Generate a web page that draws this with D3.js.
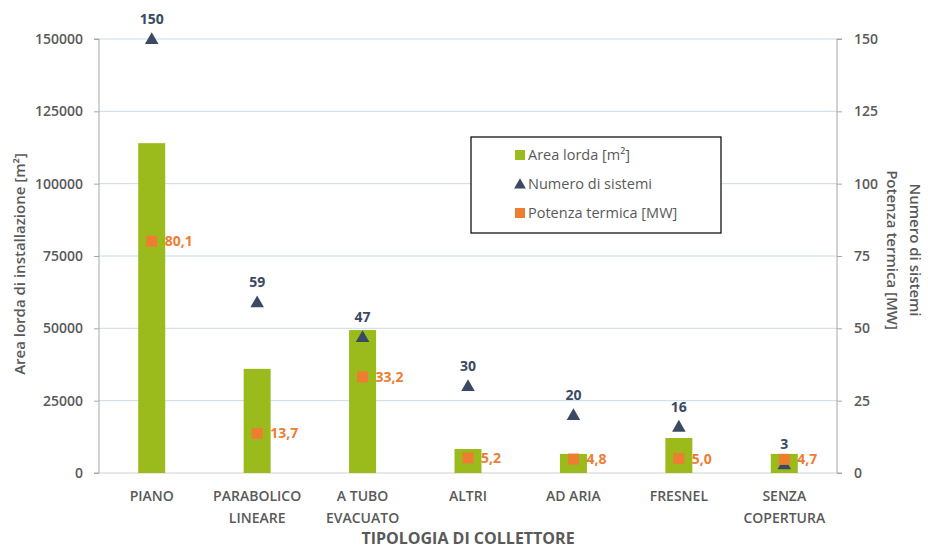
<!DOCTYPE html>
<html>
<head>
<meta charset="utf-8">
<script src="https://cdn.jsdelivr.net/npm/d3@7"></script>
<style>
  body { margin: 0; background: #fff; }
  svg text { font-family: "Open Sans", sans-serif; }
</style>
</head>
<body>
<div class="wrapper"></div>
<script>
const categories = [['PIANO'], ['PARABOLICO', 'LINEARE'], ['A TUBO', 'EVACUATO'], ['ALTRI'], ['AD ARIA'], ['FRESNEL'], ['SENZA', 'COPERTURA']]
const areaValues = [114000, 36000, 49400, 8300, 6600, 12100, 6600]
const sistemiValues = [150, 59, 47, 30, 20, 16, 3]
const potenzaValues = [80.1, 13.7, 33.2, 5.2, 4.8, 5.0, 4.7]
const leftTicks = [0, 25000, 50000, 75000, 100000, 125000, 150000]
const rightTicks = [0, 25, 50, 75, 100, 125, 150]

const width = 928, height = 550
const margin = { top: 39, right: 91, bottom: 77, left: 99 }
const innerW = width - margin.left - margin.right
const innerH = height - margin.top - margin.bottom

const green = '#9bbb1c', navy = '#3b4a64', orange = '#ed7d31', grey = '#595959'

const svg = d3.select('.wrapper')
  .append('svg')
  .attr('width', width)
  .attr('height', height)

const g = svg.append('g')
  .attr('transform', `translate(${margin.left}, ${margin.top})`)

const x = d3.scaleBand()
  .domain(d3.range(categories.length))
  .range([0, innerW])

const yL = d3.scaleLinear().domain([0, 150000]).range([innerH, 0])
const yR = d3.scaleLinear().domain([0, 150]).range([innerH, 0])

// gridlines
g.selectAll('line.grid')
  .data(leftTicks.slice(1))
  .enter().append('line')
  .attr('class', 'grid')
  .attr('x1', 0).attr('x2', innerW)
  .attr('y1', d => yL(d)).attr('y2', d => yL(d))
  .attr('stroke', '#c9dbe8')
  .attr('stroke-width', 1)

// left axis
const leftAxis = g.append('g')
  .call(d3.axisLeft(yL).tickValues(leftTicks).tickSize(5).tickPadding(11).tickFormat(d3.format('d')))
leftAxis.select('.domain').attr('stroke', '#a6a6a6').attr('d', `M-5,${innerH}H0V0H-5`)
leftAxis.selectAll('.tick line').attr('stroke', '#a6a6a6')
leftAxis.selectAll('text').attr('fill', grey).style('font-size', '14px').style('font-weight', 600)

// right axis
const rightAxis = g.append('g')
  .attr('transform', `translate(${innerW}, 0)`)
  .call(d3.axisRight(yR).tickValues(rightTicks).tickSize(5).tickPadding(12))
rightAxis.select('.domain').attr('stroke', '#a6a6a6').attr('d', `M5,${innerH}H0V0H5`)
rightAxis.selectAll('.tick line').attr('stroke', '#a6a6a6')
rightAxis.selectAll('text').attr('fill', grey).style('font-size', '14px').style('font-weight', 600)

// bottom axis line
g.append('line')
  .attr('x1', 0).attr('x2', innerW)
  .attr('y1', innerH).attr('y2', innerH)
  .attr('stroke', '#d0d0d0')

// category labels
const catLabel = g.selectAll('text.cat')
  .data(categories)
  .enter().append('text')
  .attr('class', 'cat')
  .attr('text-anchor', 'middle')
  .attr('fill', grey)
  .style('font-size', '14px')
  .style('font-weight', 600)
catLabel.each(function (d, i) {
  d3.select(this).selectAll('tspan')
    .data(d)
    .enter().append('tspan')
    .attr('x', x(i) + x.bandwidth() / 2)
    .attr('y', (t, j) => innerH + 28 + j * 22)
    .text(t => t)
})

// bars
const barW = 27
g.selectAll('rect.bar')
  .data(areaValues)
  .enter().append('rect')
  .attr('class', 'bar')
  .attr('x', (d, i) => x(i) + x.bandwidth() / 2 - barW / 2)
  .attr('y', d => yL(d))
  .attr('width', barW)
  .attr('height', d => innerH - yL(d))
  .attr('fill', green)

// triangles (numero di sistemi)
const tri = d3.symbol().type(d3.symbolTriangle).size(80)
g.selectAll('path.tri')
  .data(sistemiValues)
  .enter().append('path')
  .attr('class', 'tri')
  .attr('d', tri)
  .attr('transform', (d, i) => `translate(${x(i) + x.bandwidth() / 2}, ${yR(d) + 1})`)
  .attr('fill', navy)

g.selectAll('text.tri-label')
  .data(sistemiValues)
  .enter().append('text')
  .attr('class', 'tri-label')
  .attr('x', (d, i) => x(i) + x.bandwidth() / 2)
  .attr('y', d => yR(d) - 15)
  .attr('text-anchor', 'middle')
  .attr('fill', navy)
  .style('font-size', '14px')
  .style('font-weight', 700)
  .text(d => d)

// squares (potenza termica)
const sq = 11
g.selectAll('rect.sq')
  .data(potenzaValues)
  .enter().append('rect')
  .attr('class', 'sq')
  .attr('x', (d, i) => x(i) + x.bandwidth() / 2 - sq / 2)
  .attr('y', d => yR(d) - sq / 2)
  .attr('width', sq)
  .attr('height', sq)
  .attr('fill', orange)

g.selectAll('text.sq-label')
  .data(potenzaValues)
  .enter().append('text')
  .attr('class', 'sq-label')
  .attr('x', (d, i) => x(i) + x.bandwidth() / 2 + 13)
  .attr('y', d => yR(d) + 5)
  .attr('fill', orange)
  .style('font-size', '14px')
  .style('font-weight', 700)
  .text(d => d.toFixed(1).replace('.', ','))

// axis titles
svg.append('text')
  .attr('transform', `translate(25, ${margin.top + innerH / 2 + 8}) rotate(-90)`)
  .attr('text-anchor', 'middle')
  .attr('fill', grey)
  .style('font-size', '15px')
  .style('font-weight', 600)
  .text('Area lorda di installazione [m²]')

const rt = svg.append('text')
  .attr('transform', `translate(887, ${margin.top + innerH / 2 - 6}) rotate(90)`)
  .attr('text-anchor', 'middle')
  .attr('fill', grey)
  .style('font-size', '15px')
  .style('font-weight', 600)
rt.append('tspan').attr('x', 0).attr('y', -23).text('Numero di sistemi')
rt.append('tspan').attr('x', 0).attr('y', 0).text('Potenza termica [MW]')

svg.append('text')
  .attr('x', margin.left + innerW / 2)
  .attr('y', 544)
  .attr('text-anchor', 'middle')
  .attr('fill', grey)
  .style('font-size', '16px')
  .style('font-weight', 700)
  .text('TIPOLOGIA DI COLLETTORE')

// legend
const legend = svg.append('g').attr('transform', 'translate(471, 137)')
legend.append('rect')
  .attr('width', 250).attr('height', 96)
  .attr('fill', '#fff').attr('stroke', '#000').attr('stroke-width', 1.2)

const legendItems = [
  { label: 'Area lorda [m²]', kind: 'sq', color: green },
  { label: 'Numero di sistemi', kind: 'tri', color: navy },
  { label: 'Potenza termica [MW]', kind: 'sq', color: orange },
]
legendItems.forEach((it, i) => {
  const ly = 18 + i * 29
  if (it.kind === 'sq') {
    legend.append('rect').attr('x', 44).attr('y', ly - 5).attr('width', 10).attr('height', 10).attr('fill', it.color)
  } else {
    legend.append('path').attr('d', d3.symbol().type(d3.symbolTriangle).size(60)).attr('transform', `translate(49, ${ly + 1})`).attr('fill', it.color)
  }
  legend.append('text')
    .attr('x', 57).attr('y', ly + 5)
    .attr('fill', grey)
    .style('font-size', '14.5px')
    .text(it.label)
})
</script>
</body>
</html>
